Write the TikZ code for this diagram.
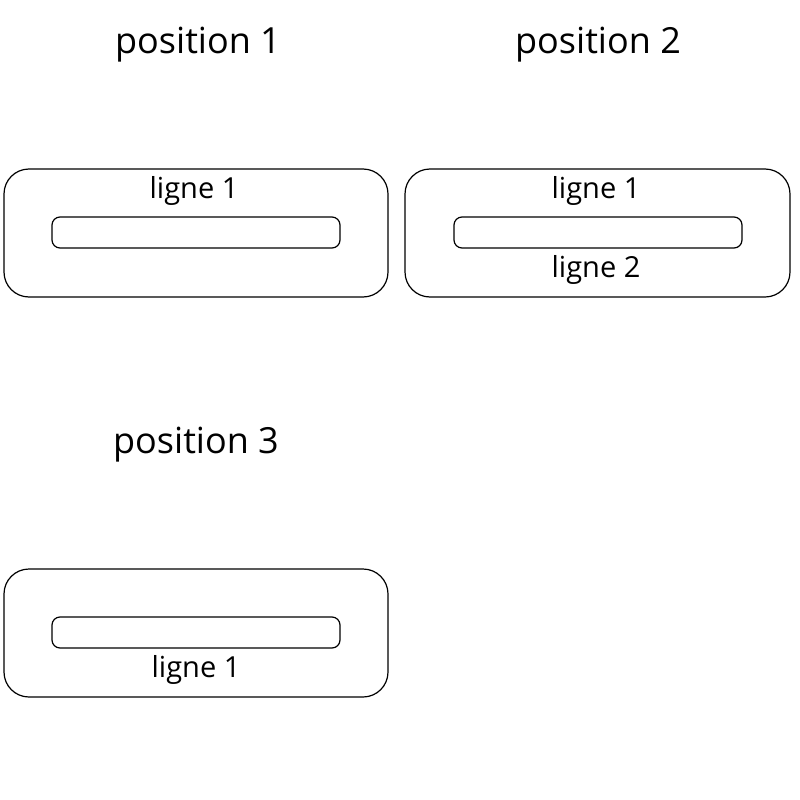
\documentclass[tikz,border=0pt]{standalone}
\usepackage{fontspec}
\setmainfont{Open Sans}
\begin{document}
\begin{tikzpicture}[x=1pt,y=-1pt,
  outer/.style={draw,line width=1.2pt,rounded corners=25pt},
  slot/.style={draw,line width=1.2pt,rounded corners=8pt},
  title/.style={font=\fontsize{36}{40}\selectfont},
  lbl/.style={font=\fontsize{29}{32}\selectfont}]
\useasboundingbox (0,0) rectangle (800,800);
\node[title] (t1) at (198,45) {position 1};
\node[title] (t2) at (598,45) {position 2};
\node[title] (t3) at (196,445) {position 3};
\draw[outer] (4,169) rectangle (388,297);
\draw[slot] (52,217) rectangle (340,248);
\node[lbl] (a1) at (194,191) {ligne 1};
\draw[outer] (405,169) rectangle (790,297);
\draw[slot] (454,217) rectangle (742,248);
\node[lbl] (b1) at (596,191) {ligne 1};
\node[lbl] (b2) at (596,270) {ligne 2};
\draw[outer] (4,569) rectangle (388,697);
\draw[slot] (52,617) rectangle (340,648);
\node[lbl] (c1) at (196,670) {ligne 1};
\end{tikzpicture}
\end{document}
